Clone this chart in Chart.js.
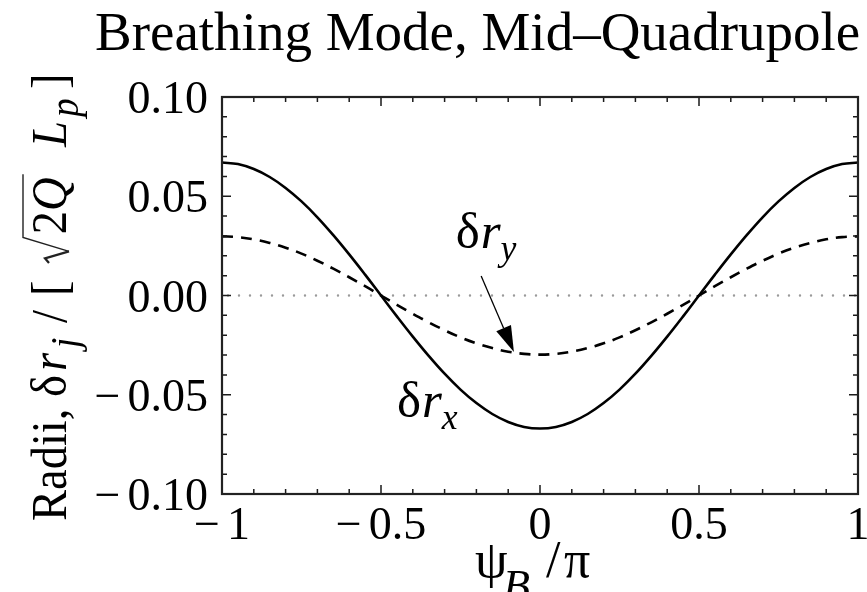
<!DOCTYPE html>
<html>
<head>
<meta charset="utf-8">
<script src="https://cdn.jsdelivr.net/npm/chart.js@4/dist/chart.umd.min.js"></script>
<style>
  html, body { margin: 0; padding: 0; background: #ffffff; }
  canvas { display: block; }
</style>
</head>
<body>
<canvas id="chart" width="867" height="592"></canvas>
<script>
// Phase psi_B / pi
const phase = [
  -1.00, -0.95, -0.90, -0.85, -0.80, -0.75, -0.70, -0.65, -0.60, -0.55,
  -0.50, -0.45, -0.40, -0.35, -0.30, -0.25, -0.20, -0.15, -0.10, -0.05,
   0.00,  0.05,  0.10,  0.15,  0.20,  0.25,  0.30,  0.35,  0.40,  0.45,
   0.50,  0.55,  0.60,  0.65,  0.70,  0.75,  0.80,  0.85,  0.90,  0.95, 1.00
];
// Horizontal radius perturbation (solid)
const radiusX = [
   0.0670,  0.0662,  0.0637,  0.0597,  0.0542,  0.0474,  0.0394,  0.0304,  0.0207,  0.0105,
   0.0000, -0.0105, -0.0207, -0.0304, -0.0394, -0.0474, -0.0542, -0.0597, -0.0637, -0.0662,
  -0.0670, -0.0662, -0.0637, -0.0597, -0.0542, -0.0474, -0.0394, -0.0304, -0.0207, -0.0105,
   0.0000,  0.0105,  0.0207,  0.0304,  0.0394,  0.0474,  0.0542,  0.0597,  0.0637,  0.0662, 0.0670
];
// Vertical radius perturbation (dashed)
const radiusY = [
   0.0298,  0.0294,  0.0283,  0.0265,  0.0241,  0.0211,  0.0175,  0.0135,  0.0092,  0.0047,
   0.0000, -0.0047, -0.0092, -0.0135, -0.0175, -0.0211, -0.0241, -0.0265, -0.0283, -0.0294,
  -0.0298, -0.0294, -0.0283, -0.0265, -0.0241, -0.0211, -0.0175, -0.0135, -0.0092, -0.0047,
   0.0000,  0.0047,  0.0092,  0.0135,  0.0175,  0.0211,  0.0241,  0.0265,  0.0283,  0.0294, 0.0298
];

const xTickValues = [-1, -0.5, 0, 0.5, 1];
const xTickLabels = ['\u22121', '\u22120.5', '0', '0.5', '1'];
const yTickValues = [0.10, 0.05, 0.00, -0.05, -0.10];
const yTickLabels = ['0.10', '0.05', '0.00', '\u22120.05', '\u22120.10'];

const titleText = 'Breathing Mode, Mid\u2013Quadrupole';

const SERIF = "'Liberation Serif','Times New Roman',serif";
function font(size, italic) { return (italic ? 'italic ' : '') + size + 'px ' + SERIF; }

// Draws a run of text pieces (italic, subscript, square root); returns end x.
// A piece may carry "at" (offset from the run start), "pre" (extra gap),
// "ss" (subscript size ratio) and "dy" (subscript drop, in em).
function drawParts(ctx, parts, x, y, size, draw, sq) {
  sq = sq || 1;
  let cx = x;
  for (const p of parts) {
    if (p.at !== undefined) cx = x + p.at;
    cx += p.pre || 0;
    if (p.sqrt) {
      const top = y - 0.86 * size;
      const x0 = cx;
      const innerStart = cx + 0.62 * size * sq;
      const innerEnd = drawParts(ctx, p.sqrt, innerStart, y, size, draw, sq);
      const end = innerEnd + 0.06 * size;
      if (draw) {
        ctx.save();
        ctx.lineJoin = 'miter';
        ctx.lineWidth = size * 0.045;
        ctx.beginPath();
        ctx.moveTo(x0, y - 0.34 * size);
        ctx.lineTo(x0 + 0.1 * size * sq, y - 0.42 * size);
        ctx.lineTo(x0 + 0.25 * size * sq, y + 0.06 * size);
        ctx.stroke();
        ctx.lineWidth = size * 0.028;
        ctx.beginPath();
        ctx.moveTo(x0 + 0.25 * size * sq, y + 0.06 * size);
        ctx.lineTo(x0 + 0.55 * size * sq, top);
        ctx.lineTo(end, top);
        ctx.stroke();
        ctx.restore();
      }
      cx = end;
    } else {
      const s = p.sub ? size * (p.ss || 0.7) : size;
      ctx.font = font(s, p.it);
      if (draw) {
        ctx.save();
        ctx.translate(cx, y + (p.sub ? (p.dy || 0.24) * size : 0));
        ctx.scale(sq, 1);
        ctx.fillText(p.t, 0, 0);
        ctx.restore();
      }
      cx += ctx.measureText(p.t).width * sq;
    }
    cx += p.post || 0;
  }
  return cx;
}

const yLabelParts = [
  { t: 'Radii,', at: 0 }, { t: '\u03b4', at: 124 }, { t: 'r', it: true, at: 150 },
  { t: 'j', it: true, sub: true, ss: 0.8, at: 173 }, { t: '/', at: 198 }, { t: '[', at: 225 },
  { sqrt: [{ t: '2' }, { t: 'Q', it: true }], at: 258 },
  { t: 'L', it: true, at: 374 }, { t: 'p', it: true, sub: true, ss: 0.8, at: 404 }, { t: ']', at: 432 }
];
const xLabelParts = [
  { t: '\u03c8', at: 0 }, { t: 'B', it: true, sub: true, ss: 0.85, dy: 0.45, at: 28 },
  { t: '/', at: 71 }, { t: '\u03c0', at: 89 }
];
const labelRy = [{ t: '\u03b4' }, { t: 'r', it: true, pre: 1 }, { t: 'y', it: true, sub: true }];
const labelRx = [{ t: '\u03b4' }, { t: 'r', it: true, pre: 1 }, { t: 'x', it: true, sub: true }];

// Annotation anchors in data units
const ryLabelAt = { x: -0.265, y: 0.024 };
const rxLabelAt = { x: -0.45, y: -0.061 };
const arrowFrom = { x: -0.185, y: 0.0098 };
const arrowTo = { x: -0.082, y: -0.0285 };

function drawNumber(ctx, text, x, y, align) {
  const neg = text.startsWith('\u2212');
  const num = neg ? text.slice(1) : text;
  const gap = 7;
  const mw = neg ? ctx.measureText('\u2212').width : 0;
  const nw = ctx.measureText(num).width;
  const total = nw + (neg ? mw + gap : 0);
  let left = align === 'right' ? x - total : x - total / 2;
  ctx.textAlign = 'left';
  if (neg) { ctx.fillText('\u2212', left, y); left += mw + gap; }
  ctx.fillText(num, left, y);
}

const framePlugin = {
  id: 'frame',
  beforeDatasetsDraw(chart) {
    const { ctx, chartArea: a, scales: { x, y } } = chart;
    ctx.save();
    ctx.fillStyle = '#ffffff';
    ctx.fillRect(0, 0, chart.width, chart.height);
    // dotted zero line
    const y0 = y.getPixelForValue(0);
    ctx.strokeStyle = '#9a9a9a';
    ctx.lineWidth = 2.4;
    ctx.lineCap = 'round';
    ctx.setLineDash([0, 11]);
    ctx.beginPath();
    ctx.moveTo(a.left + 6, y0);
    ctx.lineTo(a.right, y0);
    ctx.stroke();
    ctx.restore();
  },
  afterDatasetsDraw(chart) {
    const { ctx, chartArea: a, scales: { x, y } } = chart;
    ctx.save();
    ctx.strokeStyle = '#1a1a1a';
    ctx.lineWidth = 1.5;
    // minor and major ticks on all four sides, pointing inward
    for (let i = -10; i <= 10; i++) {
      const px = x.getPixelForValue(i / 10);
      const len = (i % 5 === 0) ? 9 : 5;
      ctx.beginPath();
      ctx.moveTo(px, a.bottom); ctx.lineTo(px, a.bottom - len);
      ctx.moveTo(px, a.top); ctx.lineTo(px, a.top + len);
      ctx.stroke();
    }
    for (let i = -10; i <= 10; i++) {
      const py = y.getPixelForValue(i / 100);
      const len = (i % 5 === 0) ? 9 : 5;
      ctx.beginPath();
      ctx.moveTo(a.left, py); ctx.lineTo(a.left + len, py);
      ctx.moveTo(a.right, py); ctx.lineTo(a.right - len, py);
      ctx.stroke();
    }
    // frame
    ctx.lineWidth = 2.2;
    ctx.strokeStyle = '#222222';
    ctx.strokeRect(a.left, a.top, a.right - a.left, a.bottom - a.top);

    // tick labels
    ctx.fillStyle = '#000000';
    ctx.font = font(46, false);
    ctx.textBaseline = 'alphabetic';
    yTickValues.forEach((v, i) => {
      drawNumber(ctx, yTickLabels[i], 208, y.getPixelForValue(v) + 16, 'right');
    });
    xTickValues.forEach((v, i) => {
      drawNumber(ctx, xTickLabels[i], x.getPixelForValue(v), 539, 'center');
    });

    // title
    ctx.font = font(55, false);
    ctx.textAlign = 'left';
    ctx.fillText(titleText, 95, 50);

    // x axis label
    drawParts(ctx, xLabelParts, 475, 577, 52, true);

    // y axis label
    ctx.save();
    ctx.translate(66, 521);
    ctx.rotate(-Math.PI / 2);
    drawParts(ctx, yLabelParts, 0, 0, 50, true, 0.93);
    ctx.restore();

    // curve labels
    drawParts(ctx, labelRy, x.getPixelForValue(ryLabelAt.x), y.getPixelForValue(ryLabelAt.y), 51, true);
    drawParts(ctx, labelRx, x.getPixelForValue(rxLabelAt.x), y.getPixelForValue(rxLabelAt.y), 51, true);

    // arrow to the dashed curve
    const ax0 = x.getPixelForValue(arrowFrom.x), ay0 = y.getPixelForValue(arrowFrom.y);
    const ax1 = x.getPixelForValue(arrowTo.x), ay1 = y.getPixelForValue(arrowTo.y);
    const ang = Math.atan2(ay1 - ay0, ax1 - ax0);
    const hl = 26, hw = 8;
    const bx = ax1 - hl * Math.cos(ang), by = ay1 - hl * Math.sin(ang);
    ctx.strokeStyle = '#000000';
    ctx.lineWidth = 1.3;
    ctx.beginPath();
    ctx.moveTo(ax0, ay0); ctx.lineTo(bx, by);
    ctx.stroke();
    ctx.beginPath();
    ctx.moveTo(ax1, ay1);
    ctx.lineTo(bx + hw * Math.sin(ang), by - hw * Math.cos(ang));
    ctx.lineTo(bx - hw * Math.sin(ang), by + hw * Math.cos(ang));
    ctx.closePath();
    ctx.fill();
    ctx.restore();
  }
};

new Chart(document.getElementById('chart'), {
  type: 'line',
  data: {
    datasets: [
      {
        label: '\u03b4r_x',
        data: phase.map((p, i) => ({ x: p, y: radiusX[i] })),
        borderColor: '#000000',
        borderWidth: 2.6,
        pointRadius: 0,
        tension: 0.4,
        fill: false
      },
      {
        label: '\u03b4r_y',
        data: phase.map((p, i) => ({ x: p, y: radiusY[i] })),
        borderColor: '#000000',
        borderWidth: 2.6,
        borderDash: [11, 8],
        pointRadius: 0,
        tension: 0.4,
        fill: false
      }
    ]
  },
  options: {
    responsive: false,
    animation: false,
    devicePixelRatio: 1,
    layout: { padding: { left: 222, right: 9, top: 97, bottom: 98 } },
    plugins: { legend: { display: false }, tooltip: { enabled: false }, title: { display: false } },
    scales: {
      x: { type: 'linear', min: -1, max: 1, display: false },
      y: { type: 'linear', min: -0.1, max: 0.1, display: false }
    }
  },
  plugins: [framePlugin]
});
</script>
</body>
</html>
